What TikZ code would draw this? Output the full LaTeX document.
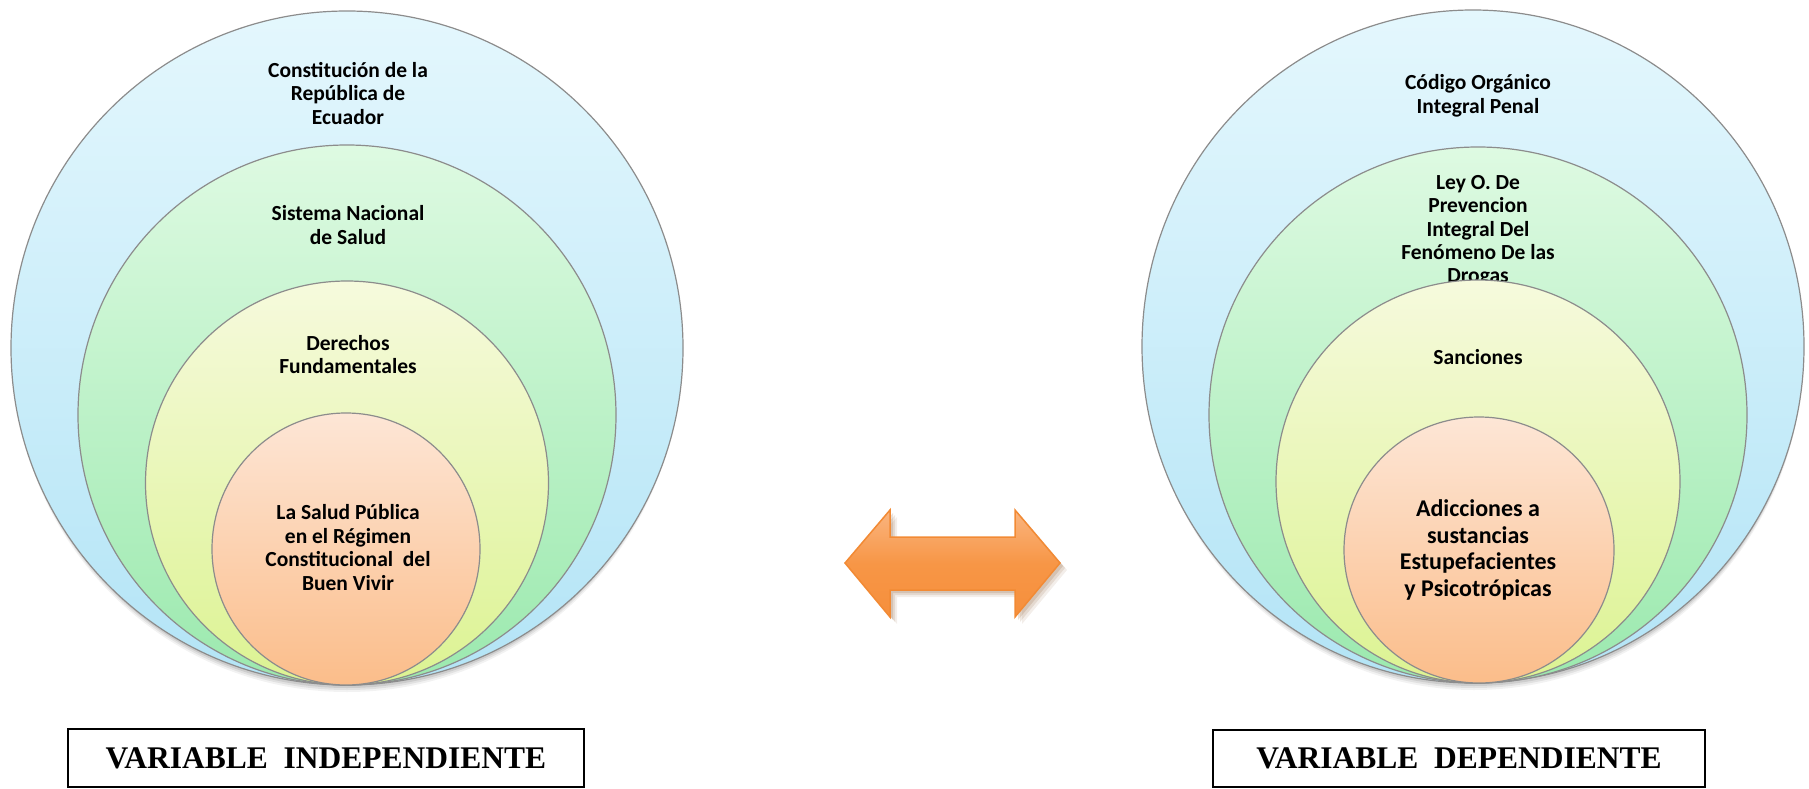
\documentclass[tikz,border=0pt]{standalone}
\usepackage{fontspec}
\newfontfamily\calfont{Carlito}
\newfontfamily\tnrfont{Liberation Serif}
\usetikzlibrary{shapes.geometric}
\definecolor{ringgray}{HTML}{8C8C8C}
\definecolor{blA}{HTML}{E4F7FD}
\definecolor{blB}{HTML}{B3E4F6}
\definecolor{grA}{HTML}{DEFAE2}
\definecolor{grB}{HTML}{9BE9AE}
\definecolor{yeA}{HTML}{F6FADD}
\definecolor{yeB}{HTML}{DCF392}
\definecolor{orA}{HTML}{FDE6D6}
\definecolor{orB}{HTML}{FBBD8A}
\definecolor{arTop}{HTML}{FAB580}
\definecolor{arMid}{HTML}{F79646}
\definecolor{arBot}{HTML}{F68F3C}
\definecolor{arEdge}{HTML}{F28A34}
\definecolor{arShadow}{HTML}{8A5A30}
\tikzset{
  ring/.style={ellipse, draw=ringgray, line width=1.2pt, inner sep=0pt},
  lab/.style={font=\calfont\bfseries\fontsize{21.5}{23.5}\selectfont, align=center, inner sep=0pt},
  labbig/.style={font=\calfont\bfseries\fontsize{24}{26.7}\selectfont, align=center, inner sep=0pt},
  varbox/.style={draw=black, line width=2pt, inner sep=0pt, font=\tnrfont\bfseries\fontsize{31.5}{36}\selectfont}
}
\begin{document}
\begin{tikzpicture}[x=1pt,y=-1pt]
\useasboundingbox (0,0) rectangle (1809,789);
% soft shadows under the circle stacks
\foreach \d/\o in {7/0.05,5/0.07,3/0.09}{
  \fill[black,opacity=\o] (347,{348+\d}) ellipse [x radius=334pt, y radius=337pt];
  \fill[black,opacity=\o] (1474,{346.5+\d}) ellipse [x radius=329pt, y radius=336.5pt];
}
% ---------- left stack ----------
\node[ring, top color=blA, bottom color=blB, minimum width=672pt, minimum height=674pt] (L1) at (347,348) {};
\node[lab] (L1t) at (348,93.5) {Constitución de la\\República de\\Ecuador};
\node[ring, top color=grA, bottom color=grB, minimum width=538pt, minimum height=540pt] (L2) at (347,415) {};
\node[lab] (L2t) at (348,225) {Sistema Nacional\\de Salud};
\node[ring, top color=yeA, bottom color=yeB, minimum width=403pt, minimum height=404pt] (L3) at (347,483) {};
\node[lab] (L3t) at (348,354.5) {Derechos\\Fundamentales};
\node[ring, top color=orA, bottom color=orB, minimum width=268pt, minimum height=272pt] (L4) at (346,549) {};
\node[lab] (L4t) at (348,547.5) {La Salud Pública\\en el Régimen\\Constitucional~ del\\Buen Vivir};
% ---------- right stack ----------
\node[ring, top color=blA, bottom color=blB, minimum width=662pt, minimum height=673pt] (R1) at (1473,346.5) {};
\node[lab] (R1t) at (1478,96) {Código Orgánico\\Integral Penal};
\node[ring, top color=grA, bottom color=grB, minimum width=538pt, minimum height=536pt] (R2) at (1478,415) {};
\node[lab, font=\calfont\bfseries\fontsize{21.5}{23.3}\selectfont] (R2t) at (1478,231) {Ley O. De\\Prevencion\\Integral Del\\Fenómeno De las\\Drogas};
\node[ring, top color=yeA, bottom color=yeB, minimum width=404pt, minimum height=403pt] (R3) at (1478,481.5) {};
\node[lab] (R3t) at (1478,357) {Sanciones};
\node[ring, top color=orA, bottom color=orB, minimum width=270pt, minimum height=266pt] (R4) at (1479,550) {};
\node[labbig] (R4t) at (1478,550) {Adicciones a\\sustancias\\Estupefacientes\\y Psicotrópicas};
% ---------- double arrow ----------
\coordinate (aL) at (845,563);
\coordinate (aR) at (1060,563);
\foreach \s/\o in {7/0.10,5/0.14,3/0.18}{
  \fill[arShadow,opacity=\o,shift={(\s pt,-\s pt)}]
    (845,563) -- (890,510) -- (890,537) -- (1015,537) -- (1015,510) -- (1060,563)
    -- (1015,617) -- (1015,590) -- (890,590) -- (890,617) -- cycle;
}
\path[top color=arTop, bottom color=arBot, middle color=arMid, draw=arEdge, line width=1.5pt, line join=miter]
  (aL) -- (890,510) -- (890,537) -- (1015,537) -- (1015,510) -- (aR)
  -- (1015,617) -- (1015,590) -- (890,590) -- (890,617) -- cycle;
% ---------- variable boxes ----------
\node[varbox, minimum width=516pt, minimum height=58pt] (VI) at (326,758) {VARIABLE~~INDEPENDIENTE};
\node[varbox, minimum width=492pt, minimum height=57pt] (VD) at (1459,758.5) {VARIABLE~~DEPENDIENTE};
\end{tikzpicture}
\end{document}
